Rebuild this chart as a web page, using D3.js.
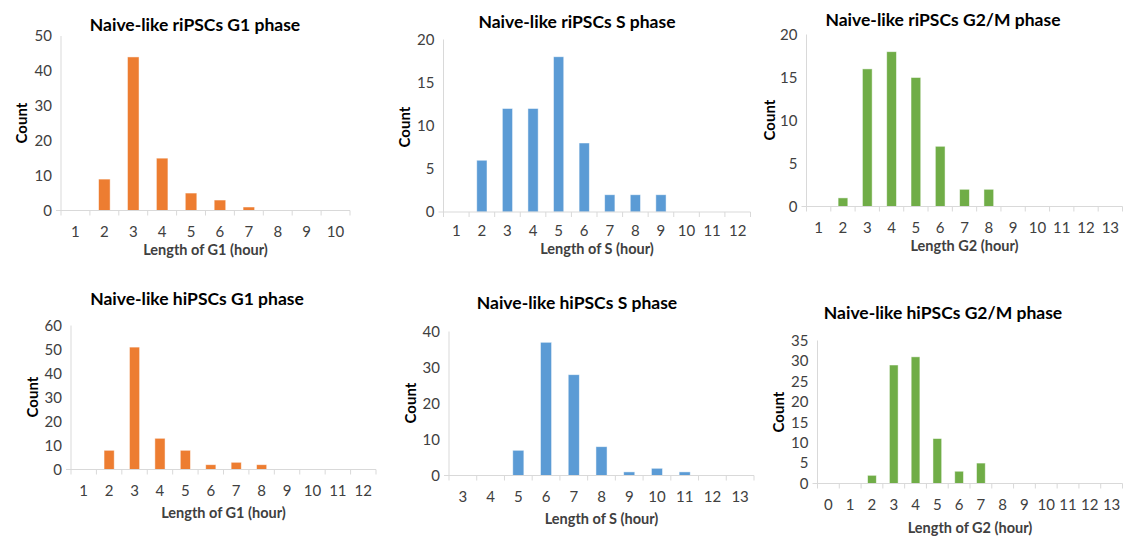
<!DOCTYPE html>
<html>
<head>
<meta charset="utf-8">
<script src="https://cdn.jsdelivr.net/npm/d3@7"></script>
<style>
  html, body { margin: 0; padding: 0; background: #fff; }
  svg { display: block; font-family: Lato, "Open Sans", sans-serif; }
</style>
</head>
<body>
<svg id="chart" width="1126" height="538"></svg>
<script>
// Cell-cycle phase length histograms (counts per hour bin)
const riG1Hours = [1, 2, 3, 4, 5, 6, 7, 8, 9, 10];
const riG1Counts = [0, 9, 44, 15, 5, 3, 1, 0, 0, 0];

const riSHours = [1, 2, 3, 4, 5, 6, 7, 8, 9, 10, 11, 12];
const riSCounts = [0, 6, 12, 12, 18, 8, 2, 2, 2, 0, 0, 0];

const riG2Hours = [1, 2, 3, 4, 5, 6, 7, 8, 9, 10, 11, 12, 13];
const riG2Counts = [0, 1, 16, 18, 15, 7, 2, 2, 0, 0, 0, 0, 0];

const hiG1Hours = [1, 2, 3, 4, 5, 6, 7, 8, 9, 10, 11, 12];
const hiG1Counts = [0, 8, 51, 13, 8, 2, 3, 2, 0, 0, 0, 0];

const hiSHours = [3, 4, 5, 6, 7, 8, 9, 10, 11, 12, 13];
const hiSCounts = [0, 0, 7, 37, 28, 8, 1, 2, 1, 0, 0];

const hiG2Hours = [0, 1, 2, 3, 4, 5, 6, 7, 8, 9, 10, 11, 12, 13];
const hiG2Counts = [0, 0, 2, 29, 31, 11, 3, 5, 0, 0, 0, 0, 0, 0];

const titles = [
  "Naive-like riPSCs G1 phase", "Naive-like riPSCs S phase", "Naive-like riPSCs G2/M phase",
  "Naive-like hiPSCs G1 phase", "Naive-like hiPSCs S phase", "Naive-like hiPSCs G2/M phase"
];
const xTitles = [
  "Length of G1 (hour)", "Length of S (hour)", "Length G2 (hour)",
  "Length of G1 (hour)", "Length of S (hour)", "Length of G2 (hour)"
];
const yMaxes = [50, 20, 20, 60, 40, 35];
const yTickSteps = [10, 5, 5, 10, 10, 5];

const ORANGE = "#ED7D31", BLUE = "#5B9BD5", GREEN = "#70AD47";

// Plot-area geometry for each panel
const panels = [
  { hours: riG1Hours, counts: riG1Counts, color: ORANGE,
    x0: 61, x1: 350, yTop: 36, y0: 210.5, titleX: 195, titleY: 31, tickY: 237, xtY: 255, countX: 22, countY: 123 },
  { hours: riSHours, counts: riSCounts, color: BLUE,
    x0: 443.5, x1: 750.5, yTop: 39.5, y0: 212, titleX: 577, titleY: 28, tickY: 235.5, xtY: 253.5, countX: 405, countY: 127 },
  { hours: riG2Hours, counts: riG2Counts, color: GREEN,
    x0: 806.5, x1: 1122.5, yTop: 34.5, y0: 206.5, titleX: 943, titleY: 26, tickY: 233, xtY: 250.5, countX: 770, countY: 120 },
  { hours: hiG1Hours, counts: hiG1Counts, color: ORANGE,
    x0: 71, x1: 376, yTop: 325.5, y0: 469.5, titleX: 197, titleY: 305, tickY: 496, xtY: 518, countX: 33, countY: 397 },
  { hours: hiSHours, counts: hiSCounts, color: BLUE,
    x0: 449, x1: 754, yTop: 331.5, y0: 475.5, titleX: 577, titleY: 309, tickY: 502, xtY: 524, countX: 411, countY: 403 },
  { hours: hiG2Hours, counts: hiG2Counts, color: GREEN,
    x0: 817.5, x1: 1122.5, yTop: 340.5, y0: 483.5, titleX: 943, titleY: 319, tickY: 510, xtY: 533, countX: 779, countY: 412 }
];

const svg = d3.select("#chart");
const AXIS = "#d9d9d9";
const TEXT = "#404040";

panels.forEach((p, i) => {
  const g = svg.append("g");

  const x = d3.scaleBand()
    .domain(p.hours)
    .range([p.x0, p.x1])
    .paddingInner(0.6)
    .paddingOuter(0.3);

  const y = d3.scaleLinear()
    .domain([0, yMaxes[i]])
    .range([p.y0, p.yTop]);

  // Bars
  g.append("g").selectAll("rect")
    .data(p.hours.map((h, k) => ({ h, c: p.counts[k] })).filter(d => d.c > 0))
    .join("rect")
    .attr("x", d => x(d.h))
    .attr("y", d => y(d.c))
    .attr("width", x.bandwidth())
    .attr("height", d => y(0) - y(d.c))
    .attr("fill", p.color)
    .attr("stroke", "#ffffff")
    .attr("stroke-opacity", 0.6)
    .attr("stroke-width", 0.8);

  // Y axis line
  g.append("line")
    .attr("x1", p.x0).attr("x2", p.x0)
    .attr("y1", p.yTop).attr("y2", p.y0 + 5)
    .attr("stroke", AXIS).attr("stroke-width", 1);

  // X axis line
  g.append("line")
    .attr("x1", p.x0 - 5).attr("x2", p.x1)
    .attr("y1", p.y0).attr("y2", p.y0)
    .attr("stroke", AXIS).attr("stroke-width", 1);

  // X category-boundary ticks
  const bounds = d3.range(1, p.hours.length + 1).map(k => p.x0 + k * (p.x1 - p.x0) / p.hours.length);
  g.append("g").selectAll("line")
    .data(bounds)
    .join("line")
    .attr("x1", d => d).attr("x2", d => d)
    .attr("y1", p.y0).attr("y2", p.y0 + 5)
    .attr("stroke", AXIS).attr("stroke-width", 1);

  // X tick labels
  g.append("g").selectAll("text")
    .data(p.hours)
    .join("text")
    .attr("x", d => x(d) + x.bandwidth() / 2)
    .attr("y", p.tickY)
    .attr("text-anchor", "middle")
    .attr("font-size", 15)
    .attr("fill", TEXT)
    .text(d => d);

  // Y tick labels
  const yTicks = d3.range(0, yMaxes[i] + 0.001, yTickSteps[i]);
  g.append("g").selectAll("text")
    .data(yTicks)
    .join("text")
    .attr("x", p.x0 - 9)
    .attr("y", d => y(d))
    .attr("dy", "0.36em")
    .attr("text-anchor", "end")
    .attr("font-size", 15)
    .attr("fill", TEXT)
    .text(d => d);

  // Panel title
  g.append("text")
    .attr("x", p.titleX).attr("y", p.titleY)
    .attr("text-anchor", "middle")
    .attr("font-size", 17.5)
    .attr("font-weight", "bold")
    .attr("fill", "#000")
    .text(titles[i]);

  // X axis title
  g.append("text")
    .attr("x", (p.x0 + p.x1) / 2).attr("y", p.xtY)
    .attr("text-anchor", "middle")
    .attr("font-size", 14.5)
    .attr("font-weight", "bold")
    .attr("fill", TEXT)
    .text(xTitles[i]);

  // Y axis title
  g.append("text")
    .attr("transform", `translate(${p.countX},${p.countY}) rotate(-90)`)
    .attr("text-anchor", "middle")
    .attr("dy", "0.35em")
    .attr("font-size", 15)
    .attr("font-weight", "bold")
    .attr("fill", "#000")
    .text("Count");
});
</script>
</body>
</html>
